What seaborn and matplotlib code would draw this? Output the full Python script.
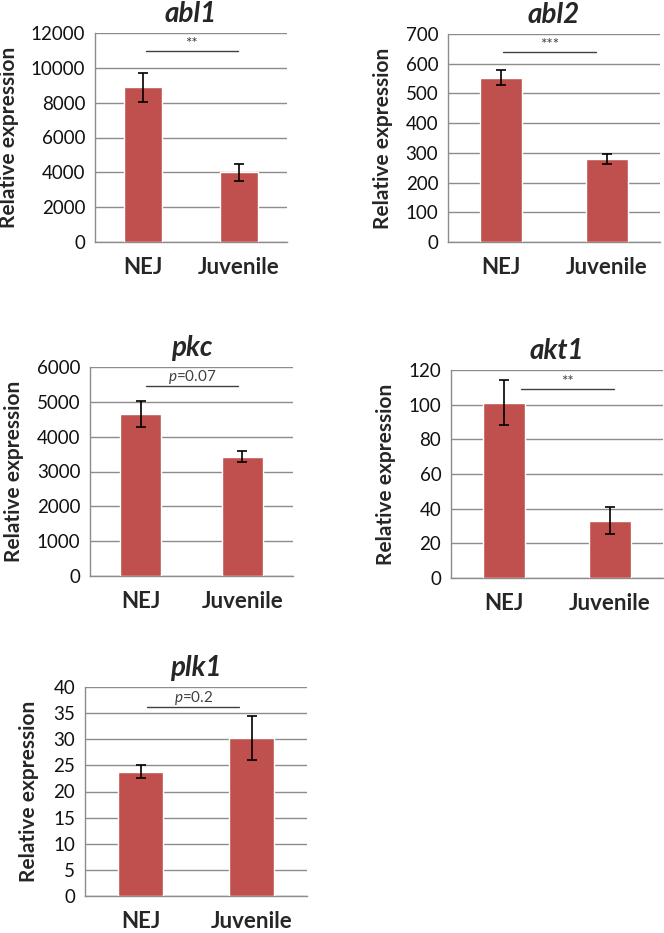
import matplotlib
matplotlib.use("Agg")
import matplotlib.pyplot as plt
import seaborn as sns
import pandas as pd

sns.set_style("white")
plt.rcParams['font.family'] = ['Lato', 'DejaVu Sans']
plt.rcParams['mathtext.fontset'] = 'custom'
plt.rcParams['mathtext.it'] = 'Lato:italic'
plt.rcParams['mathtext.rm'] = 'Lato'

groups = ['NEJ', 'Juvenile']
genes = ['abl1', 'abl2', 'pkc', 'akt1', 'plk1']

abl1_mean = [8880, 4000]
abl1_err = [850, 480]
abl2_mean = [553, 280]
abl2_err = [25, 16]
pkc_mean = [4650, 3420]
pkc_err = [380, 160]
akt1_mean = [101.2, 33.0]
akt1_err = [13.0, 7.7]
plk1_mean = [23.8, 30.2]
plk1_err = [1.3, 4.2]

y_max = [12000, 700, 6000, 120, 40]
y_step = [2000, 100, 1000, 20, 5]

sig_label = ['**', '***', r'$\it{p}$=0.07', '**', r'$\it{p}$=0.2']
sig_height = [10944, 640, 5453, 109, 36.2]
sig_x = [(0.03, 0.99), (0.02, 0.90), (0.05, 0.96), (0.16, 1.04), (0.06, 0.89)]

means = [abl1_mean, abl2_mean, pkc_mean, akt1_mean, plk1_mean]
errs = [abl1_err, abl2_err, pkc_err, akt1_err, plk1_err]

# axes boxes in pixels: left, right, top, bottom
boxes = [(95, 287, 33, 242), (448, 660, 34, 242), (90, 293, 367, 576),
         (451, 663, 370, 578), (85, 307, 687, 896)]
ylabel_right = [19, 393, 24, 396, 39]

W, H = 664, 933
fig = plt.figure(figsize=(W / 100, H / 100), dpi=100)

bar_color = '#C0504D'
grid_color = '#8C8C8C'

for i, g in enumerate(genes):
    l, r, t, b = boxes[i]
    ax = fig.add_axes([l / W, 1 - b / H, (r - l) / W, (b - t) / H])
    df = pd.DataFrame({'group': groups, 'value': means[i]})
    sns.barplot(data=df, x='group', y='value', color=bar_color, width=0.4,
                saturation=1, errorbar=None, ax=ax, zorder=3)
    ax.errorbar(x=[0, 1], y=means[i], yerr=errs[i], fmt='none', ecolor='black',
                elinewidth=1.2, capsize=3.5, capthick=1.2, zorder=4)
    ax.set_xlim(-0.5, 1.5)
    ax.set_ylim(0, y_max[i])
    ax.set_yticks(range(0, y_max[i] + 1, y_step[i]))
    ax.yaxis.grid(True, color=grid_color, linewidth=1.0, zorder=0)
    ax.set_axisbelow(True)
    for s in ['top', 'right']:
        ax.spines[s].set_visible(False)
    for s in ['left', 'bottom']:
        ax.spines[s].set_color(grid_color)
        ax.spines[s].set_linewidth(1.0)
    ax.tick_params(axis='both', length=0)
    ax.tick_params(axis='y', labelsize=13.5, pad=7, labelcolor='#111111')
    ax.tick_params(axis='x', labelsize=16, pad=11)
    for lab in ax.get_xticklabels():
        lab.set_fontweight('bold')
    ax.set_xlabel('')
    ax.set_ylabel('Relative expression', fontsize=15, fontweight='bold')
    ax.yaxis.set_label_coords((ylabel_right[i] - l) / (r - l), 0.5)
    ax.set_title(g, fontsize=20, fontweight='bold', fontstyle='italic', pad=8)
    x0, x1 = sig_x[i]
    ax.plot([x0, x1], [sig_height[i], sig_height[i]], color='#404040', lw=1.0, zorder=5)
    ax.text((x0 + x1) / 2, sig_height[i], sig_label[i], ha='center', va='bottom',
            fontsize=11, color='#404040', zorder=5)

fig.savefig('out.png', dpi=100)
